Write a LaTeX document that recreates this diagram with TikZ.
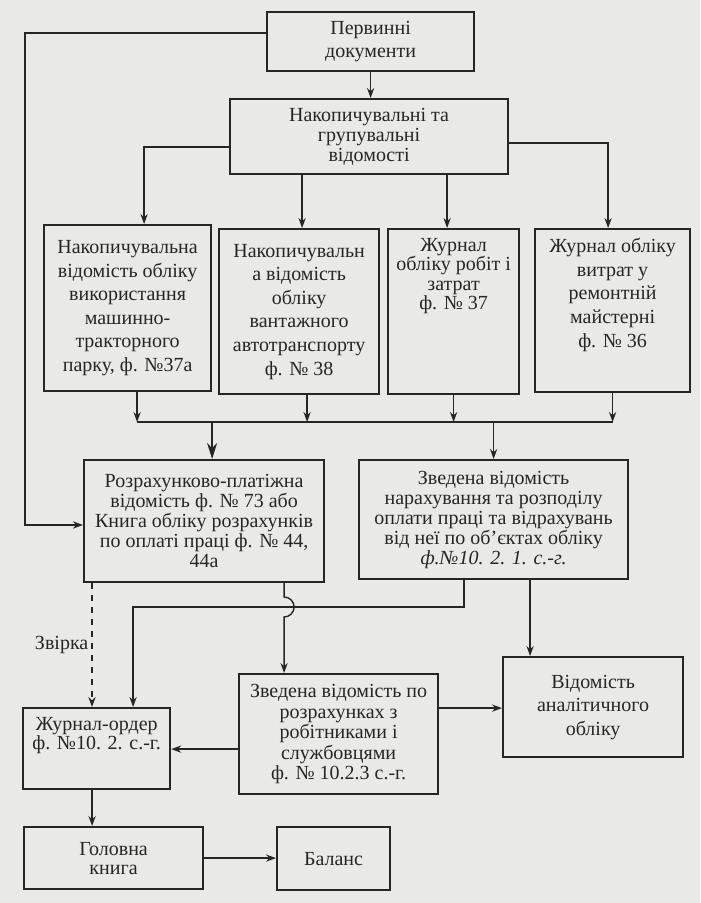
\documentclass[tikz,border=0pt]{standalone}
\usepackage{fontspec}
\setmainfont{Liberation Serif}
\usetikzlibrary{arrows.meta,calc}
\definecolor{papir}{RGB}{233,233,231}
\definecolor{chornyl}{RGB}{38,38,38}
\tikzset{
  blok/.style n args={4}{draw=chornyl, line width=1.1pt, inner sep=0pt, anchor=north west, text=chornyl,
    execute at begin node={\begin{minipage}[c][#2][#3]{#1}\centering\fontsize{10}{#4}\selectfont},
    execute at end node={\end{minipage}}},
  blokt/.style n args={3}{blok={#1}{#2}{t}{#3}, execute at begin node={\vspace*{4.6pt}}},
  strilka/.style={draw=chornyl, line width=0.7pt, -{Stealth[length=5pt,width=3.6pt]}},
  velstrilka/.style={draw=chornyl, line width=0.8pt, -{Stealth[length=8pt,width=5pt]}},
  lin/.style={draw=chornyl, line width=0.7pt}
}
\begin{document}
\begin{tikzpicture}[x=0.5pt,y=-0.5pt]
\fill[papir] (0,0) rectangle (700,903);
\useasboundingbox (0,0) rectangle (700,903);

\node[blok={103.5pt}{29.5pt}{c}{11.5pt}] (perv) at (266,11) {Первинні\\документи};
\node[blok={139pt}{37.5pt}{c}{10pt}] (nakop) at (229,98) {Накопичувальні та\\групувальні\\відомості};

\node[blok={83.5pt}{83pt}{c}{11.8pt}] (vmtp) at (43,224) {Накопичувальна\\відомість обліку\\використання\\машинно-\\тракторного\\парку, ф. №37а};
\node[blok={80pt}{82.5pt}{c}{11.8pt}] (vavt) at (218,228) {Накопичувальн\\а відомість\\обліку\\вантажного\\автотранспорту\\ф. № 38};
\node[blokt={65.5pt}{82.5pt}{9.75pt}] (zhrob) at (387,228) {Журнал\\обліку робіт і\\затрат\\ф. № 37};
\node[blokt={77.5pt}{81.5pt}{11.8pt}] (zhrem) at (534,228) {Журнал обліку\\витрат у\\ремонтній\\майстерні\\ф. № 36};

\node[blok={120pt}{61pt}{c}{10pt}] (rozr) at (83,459) {Розрахунково-платіжна\\відомість ф. № 73 або\\Книга обліку розрахунків\\по оплаті праці ф. № 44,\\44а};
\node[blok={134.5pt}{59.5pt}{c}{10pt}] (zved1) at (358,459) {Зведена відомість\\нарахування та розподілу\\оплати праці та відрахувань\\від неї по об'єктах обліку\\\textit{ф.№10. 2. 1. с.-г.}};

\node[blokt={73.5pt}{40.5pt}{9.75pt}] (zhord) at (22,707) {Журнал-ордер\\ф. №10. 2. с.-г.};
\node[blok={99.5pt}{60pt}{c}{10.2pt}] (zved2) at (238,673) {Зведена відомість по\\розрахунках з\\робітниками і\\службовцями\\ф. № 10.2.3 с.-г.};
\node[blok={90pt}{50pt}{c}{11.75pt}] (analit) at (502,656) {Відомість\\аналітичного\\обліку};

\node[blok={89.5pt}{31pt}{c}{9.5pt}] (holov) at (23,826) {Головна\\книга};
\node[blok={56.5pt}{31.5pt}{c}{10pt}] (balans) at (276,826) {Баланс};

% first documents
\draw[strilka] (perv.south) -- (perv.south |- nakop.north);
\coordinate (kut1) at (25,33);
\coordinate (kut2) at (25,525);
\draw[strilka] (perv.west |- kut1) -- (kut1) -- (kut2) -- (kut2 -| rozr.west);

% grouping statements to the four journals
\draw[strilka] ($(nakop.west)+(0,10.5)$) -| ($(vmtp.north)+(16.5,0)$);
\draw[strilka] ($(vavt.north |- nakop.south)+(3,0)$) -- ($(vavt.north)+(3,0)$);
\draw[strilka] ($(zhrob.north |- nakop.south)+(-6.5,0)$) -- ($(zhrob.north)+(-6.5,0)$);
\draw[strilka] ($(nakop.east)+(0,6.5)$) -| ($(zhrem.north)+(-4.5,0)$);

% collecting line
\coordinate (zbir) at (0,422);
\draw[strilka] ($(vmtp.south)+(9.5,0)$) -- ($(vmtp.south |- zbir)+(9.5,0)$);
\draw[strilka] ($(vavt.south)+(8,0)$) -- ($(vavt.south |- zbir)+(8,0)$);
\draw[strilka] (zhrob.south) -- (zhrob.south |- zbir);
\draw[strilka] (zhrem.south) -- (zhrem.south |- zbir);
\draw[lin] ($(vmtp.south |- zbir)+(9.5,0)$) -- (zhrem.south |- zbir);
\draw[velstrilka] ($(rozr.north |- zbir)+(8,0)$) -- ($(rozr.north)+(8,0)$);
\draw[strilka] (zved1.north |- zbir) -- (zved1.north);

% payroll to summary with a hop
\coordinate (hor) at (0,607);
\draw[strilka] ($(rozr.south)+(80,0)$) -- ($(rozr.south |- hor)+(80,-10)$)
  arc[start angle=-90, end angle=90, radius=10] -- ($(rozr.south |- zved2.north)+(80,0)$);
\draw[strilka] ($(zved1.south)+(-29.5,0)$) |- ($(zhord.north |- hor)+(36.5,0)$) -- ($(zhord.north)+(36.5,0)$);

% check
\coordinate (zv) at ($(rozr.south west)+(9,0)$);
\draw[strilka, dashed] (zv) -- (zv |- zhord.north)
  node[midway, left, inner sep=1.5pt, text=chornyl, font=\fontsize{10}{10}\selectfont] (zvirka) {Звірка};

% to analytical statement
\draw[strilka] ($(zved1.south)+(36.5,0)$) -- ($(zved1.south |- analit.north)+(36.5,0)$);
\draw[strilka] ($(zved2.east)+(0,-26)$) -- ($(zved2.east -| analit.west)+(0,-26)$);

% journal order, ledger, balance
\draw[strilka] ($(zved2.west)+(0,15)$) -- ($(zved2.west -| zhord.east)+(0,15)$);
\draw[strilka] ($(zhord.south)+(-4.5,0)$) -- ($(zhord.south |- holov.north)+(-4.5,0)$);
\draw[strilka] (holov.east) -- (holov.east -| balans.west);
\end{tikzpicture}
\end{document}
